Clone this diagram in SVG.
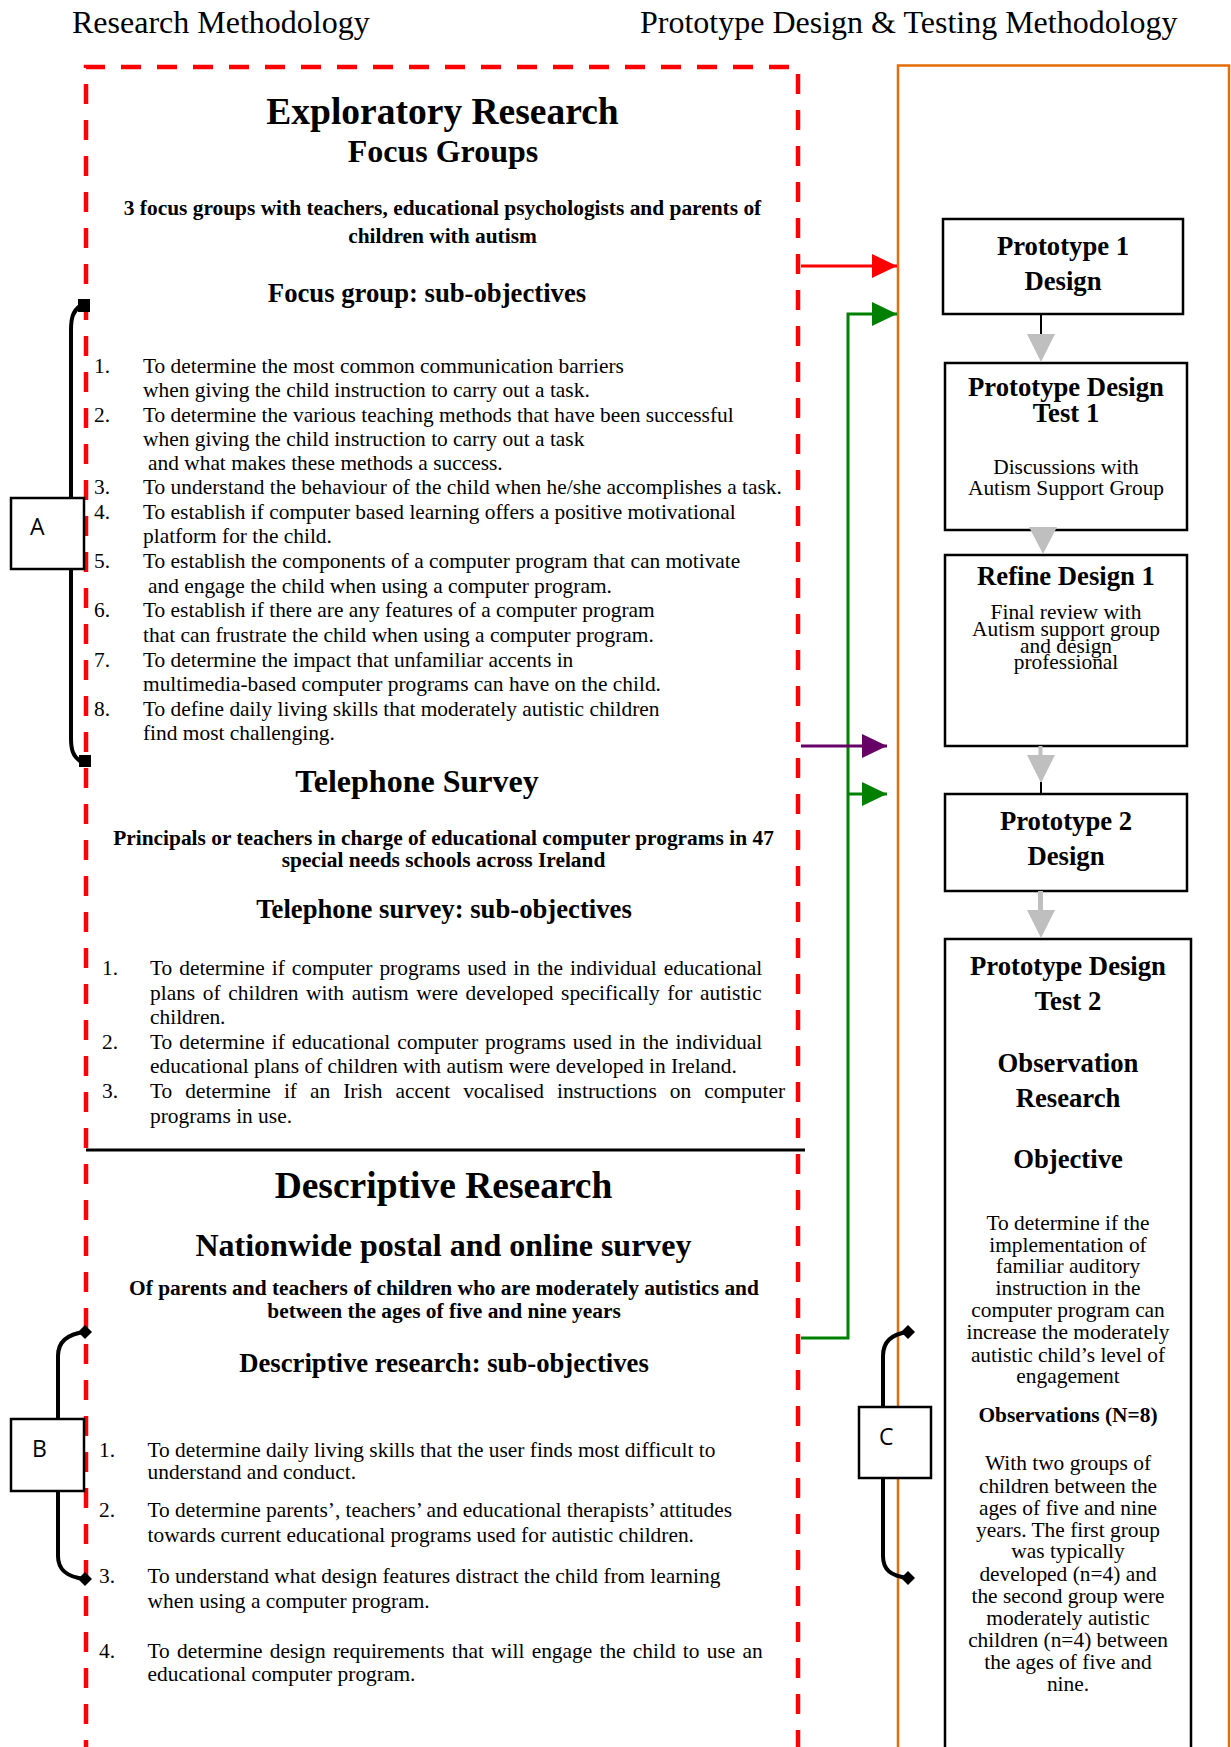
<svg xmlns="http://www.w3.org/2000/svg" width="1231" height="1747" viewBox="0 0 1231 1747">
  <defs>
    <style>
      .serif { font-family: "Liberation Serif", "Times New Roman", serif; fill: #000; }
      .b { font-weight: bold; }
      .mid { text-anchor: middle; }
      .h1 { font-size: 37.5px; }
      .h2 { font-size: 32px; }
      .h3 { font-size: 26.7px; }
      .t { font-size: 21.4px; }
      .col { font-size: 32px; }
      .tag { font-family: "Open Sans", "Liberation Sans", sans-serif; font-size: 23px; fill: #000; }
      .box { fill: #fff; stroke: #000; stroke-width: 2.5; }
      .flow { fill: #BFBFBF; }
      .brace { fill: none; stroke: #000; stroke-width: 4; }
    </style>
    <marker id="headRed" markerUnits="userSpaceOnUse" markerWidth="25" markerHeight="24" refX="25" refY="12" orient="auto">
      <path d="M0,0 L25,12 L0,24 z" fill="#FF0000"/>
    </marker>
    <marker id="headGreen" markerUnits="userSpaceOnUse" markerWidth="25" markerHeight="24" refX="25" refY="12" orient="auto">
      <path d="M0,0 L25,12 L0,24 z" fill="#008000"/>
    </marker>
    <marker id="headPurple" markerUnits="userSpaceOnUse" markerWidth="25" markerHeight="24" refX="25" refY="12" orient="auto">
      <path d="M0,0 L25,12 L0,24 z" fill="#660066"/>
    </marker>
  </defs>

  <rect width="1231" height="1747" fill="#fff"/>

  <!-- column headings -->
  <text class="serif col" x="72" y="33">Research Methodology</text>
  <text class="serif col" x="640" y="33">Prototype Design &amp; Testing Methodology</text>

  <!-- research methodology frame (red dashed) -->
  <g id="research-frame">
    <path d="M86,1760 V67 H798 V1760" fill="none" stroke="#FF0000" stroke-width="4.5" stroke-dasharray="20 16"/>
    <line x1="86" y1="1150" x2="805" y2="1150" stroke="#000" stroke-width="3"/>
  </g>

  <!-- prototype methodology frame (orange) -->
  <g id="prototype-frame">
    <path d="M898,1760 V65.5 H1229 V1760" fill="none" stroke="#E46C0A" stroke-width="2.5"/>
  </g>

  <!-- Exploratory research: focus groups -->
  <g id="focus-groups">
    <text class="serif b h1 mid" x="442.5" y="124">Exploratory Research</text>
    <text class="serif b h2 mid" x="443" y="162">Focus Groups</text>
    <text class="serif b t mid" x="442.5" y="215">3 focus groups with teachers, educational psychologists and parents of</text>
    <text class="serif b t mid" x="442.5" y="243">children with autism</text>
    <text class="serif b h3 mid" x="427" y="302">Focus group: sub-objectives</text>
    <g class="serif t">
      <text x="94" y="373">1.</text>
      <text x="143" y="373">To determine the most common communication barriers</text>
      <text x="143" y="397">when giving the child instruction to carry out a task.</text>
      <text x="94" y="422">2.</text>
      <text x="143" y="422">To determine the various teaching methods that have been successful</text>
      <text x="143" y="446">when giving the child instruction to carry out a task</text>
      <text x="148" y="470">and what makes these methods a success.</text>
      <text x="94" y="494">3.</text>
      <text x="143" y="494">To understand the behaviour of the child when he/she accomplishes a task.</text>
      <text x="94" y="519">4.</text>
      <text x="143" y="519">To establish if computer based learning offers a positive motivational</text>
      <text x="143" y="543">platform for the child.</text>
      <text x="94" y="568">5.</text>
      <text x="143" y="568">To establish the components of a computer program that can motivate</text>
      <text x="148" y="593">and engage the child when using a computer program.</text>
      <text x="94" y="617">6.</text>
      <text x="143" y="617">To establish if there are any features of a computer program</text>
      <text x="143" y="642">that can frustrate the child when using a computer program.</text>
      <text x="94" y="667">7.</text>
      <text x="143" y="667">To determine the impact that unfamiliar accents in</text>
      <text x="143" y="691">multimedia-based computer programs can have on the child.</text>
      <text x="94" y="716">8.</text>
      <text x="143" y="716">To define daily living skills that moderately autistic children</text>
      <text x="143" y="740">find most challenging.</text>
    </g>
  </g>

  <!-- Exploratory research: telephone survey -->
  <g id="telephone-survey">
    <text class="serif b h2 mid" x="417" y="792">Telephone Survey</text>
    <text class="serif b t mid" x="443.5" y="845">Principals or teachers in charge of educational computer programs in 47</text>
    <text class="serif b t mid" x="443.5" y="867">special needs schools across Ireland</text>
    <text class="serif b h3 mid" x="444" y="918">Telephone survey: sub-objectives</text>
    <g class="serif t">
      <text x="102" y="975">1.</text>
      <text x="150" y="975" word-spacing="1.6">To determine if computer programs used in the individual educational</text>
      <text x="150" y="1000" word-spacing="2.3">plans of children with autism were developed specifically for autistic</text>
      <text x="150" y="1024">children.</text>
      <text x="102" y="1049">2.</text>
      <text x="150" y="1049" word-spacing="1.6">To determine if educational computer programs used in the individual</text>
      <text x="150" y="1073">educational plans of children with autism were developed in Ireland.</text>
      <text x="102" y="1098">3.</text>
      <text x="150" y="1098" word-spacing="7.7">To determine if an Irish accent vocalised instructions on computer</text>
      <text x="150" y="1123">programs in use.</text>
    </g>
  </g>

  <!-- Descriptive research -->
  <g id="descriptive-research">
    <text class="serif b h1 mid" x="443.5" y="1198">Descriptive Research</text>
    <text class="serif b h2 mid" x="443.5" y="1256">Nationwide postal and online survey</text>
    <text class="serif b t mid" x="444" y="1295">Of parents and teachers of children who are moderately autistics and</text>
    <text class="serif b t mid" x="444" y="1318">between the ages of five and nine years</text>
    <text class="serif b h3 mid" x="444" y="1372">Descriptive research: sub-objectives</text>
    <g class="serif t">
      <text x="99" y="1457">1.</text>
      <text x="147.5" y="1457">To determine daily living skills that the user finds most difficult to</text>
      <text x="147.5" y="1479">understand and conduct.</text>
      <text x="99" y="1517">2.</text>
      <text x="147.5" y="1517">To determine parents’, teachers’ and educational therapists’ attitudes</text>
      <text x="147.5" y="1542">towards current educational programs used for autistic children.</text>
      <text x="99" y="1583">3.</text>
      <text x="147.5" y="1583">To understand what design features distract the child from learning</text>
      <text x="147.5" y="1608">when using a computer program.</text>
      <text x="99" y="1658">4.</text>
      <text x="147.5" y="1658" word-spacing="1.9">To determine design requirements that will engage the child to use an</text>
      <text x="147.5" y="1681">educational computer program.</text>
    </g>
  </g>

  <!-- prototype stages -->
  <g id="prototype-1-design">
    <rect class="box" x="943" y="219" width="240" height="95"/>
    <text class="serif b h3 mid" x="1063" y="255">Prototype 1</text>
    <text class="serif b h3 mid" x="1063" y="290">Design</text>
  </g>

  <g id="prototype-design-test-1">
    <rect class="box" x="945" y="363" width="242" height="167"/>
    <text class="serif b h3 mid" x="1066" y="396">Prototype Design</text>
    <text class="serif b h3 mid" x="1066" y="422">Test 1</text>
    <text class="serif t mid" x="1066" y="474">Discussions with</text>
    <text class="serif t mid" x="1066" y="495">Autism Support Group</text>
  </g>

  <g id="refine-design-1">
    <rect class="box" x="945" y="555" width="242" height="191"/>
    <text class="serif b h3 mid" x="1066" y="585">Refine Design 1</text>
    <text class="serif t mid" x="1066" y="619">Final review with</text>
    <text class="serif t mid" x="1066" y="636">Autism support group</text>
    <text class="serif t mid" x="1066" y="653">and design</text>
    <text class="serif t mid" x="1066" y="669">professional</text>
  </g>

  <g id="prototype-2-design">
    <rect class="box" x="945" y="794" width="242" height="97"/>
    <text class="serif b h3 mid" x="1066" y="830">Prototype 2</text>
    <text class="serif b h3 mid" x="1066" y="865">Design</text>
  </g>

  <g id="prototype-design-test-2">
    <path class="box" d="M945,1760 V939 H1191 V1760"/>
    <text class="serif b h3 mid" x="1068" y="975">Prototype Design</text>
    <text class="serif b h3 mid" x="1068" y="1010">Test 2</text>
    <text class="serif b h3 mid" x="1068" y="1072">Observation</text>
    <text class="serif b h3 mid" x="1068" y="1107">Research</text>
    <text class="serif b h3 mid" x="1068" y="1168">Objective</text>
    <g class="serif t mid">
      <text x="1068" y="1230">To determine if the</text>
      <text x="1068" y="1252">implementation of</text>
      <text x="1068" y="1273">familiar auditory</text>
      <text x="1068" y="1295">instruction in the</text>
      <text x="1068" y="1317">computer program can</text>
      <text x="1068" y="1339">increase the moderately</text>
      <text x="1068" y="1362">autistic child’s level of</text>
      <text x="1068" y="1383">engagement</text>
      <text class="b" x="1068" y="1422">Observations (N=8)</text>
      <text x="1068" y="1470">With two groups of</text>
      <text x="1068" y="1493">children between the</text>
      <text x="1068" y="1515">ages of five and nine</text>
      <text x="1068" y="1537">years. The first group</text>
      <text x="1068" y="1558">was typically</text>
      <text x="1068" y="1581">developed (n=4) and</text>
      <text x="1068" y="1603">the second group were</text>
      <text x="1068" y="1625">moderately autistic</text>
      <text x="1068" y="1647">children (n=4) between</text>
      <text x="1068" y="1669">the ages of five and</text>
      <text x="1068" y="1691">nine.</text>
    </g>
  </g>

  <!-- connectors -->
  <g id="connectors">
    <!-- research streams into the prototype column -->
    <line x1="801" y1="266" x2="897" y2="266" stroke="#FF0000" stroke-width="3" marker-end="url(#headRed)"/>
    <path d="M801,1338 H848 V314 H897" fill="none" stroke="#008000" stroke-width="3" marker-end="url(#headGreen)"/>
    <line x1="848" y1="794" x2="887" y2="794" stroke="#008000" stroke-width="3" marker-end="url(#headGreen)"/>
    <line x1="801" y1="746" x2="887" y2="746" stroke="#660066" stroke-width="3" marker-end="url(#headPurple)"/>

    <!-- stage-to-stage flow -->
    <line x1="1041" y1="314" x2="1041" y2="336" stroke="#000" stroke-width="2"/>
    <polygon class="flow" points="1027,334 1055,334 1041,362"/>
    <polygon class="flow" points="1029,527 1057,527 1043,554"/>
    <rect class="flow" x="1038.5" y="746" width="4" height="10"/>
    <polygon class="flow" points="1027,755 1055,755 1041,783"/>
    <line x1="1041" y1="782" x2="1041" y2="794" stroke="#000" stroke-width="2"/>
    <rect class="flow" x="1038" y="891" width="5" height="20"/>
    <polygon class="flow" points="1027,910 1055,910 1041,938"/>

    <!-- bracket A -->
    <path class="brace" d="M80,306 C73,311 71,318 71,330 V738 C71,750 73,756 80,761"/>
    <rect x="78" y="299" width="12" height="13" fill="#000"/>
    <rect x="79" y="755" width="12" height="12" fill="#000"/>

    <!-- bracket B -->
    <path class="brace" d="M85,1332 C67,1334 58,1342 58,1356 V1556 C58,1570 67,1577 85,1579"/>
    <polygon points="85,1325 92,1332 85,1339 78,1332" fill="#000"/>
    <polygon points="85,1572 92,1579 85,1586 78,1579" fill="#000"/>

    <!-- bracket C -->
    <path class="brace" d="M908,1332 C891,1334 883,1342 883,1356 V1556 C883,1570 891,1576 908,1578"/>
    <polygon points="908,1325 915,1332 908,1339 901,1332" fill="#000"/>
    <polygon points="908,1571 915,1578 908,1585 901,1578" fill="#000"/>
  </g>

  <!-- bracket labels -->
  <g id="label-a">
    <rect class="box" x="11" y="498" width="73" height="71" stroke-width="2"/>
    <text class="tag" x="30" y="535">A</text>
  </g>
  <g id="label-b">
    <rect class="box" x="11" y="1419" width="73" height="72" stroke-width="2"/>
    <text class="tag" x="32" y="1457">B</text>
  </g>
  <g id="label-c">
    <rect class="box" x="859" y="1407" width="72" height="71" stroke-width="2"/>
    <text class="tag" x="879" y="1445">C</text>
  </g>
</svg>
